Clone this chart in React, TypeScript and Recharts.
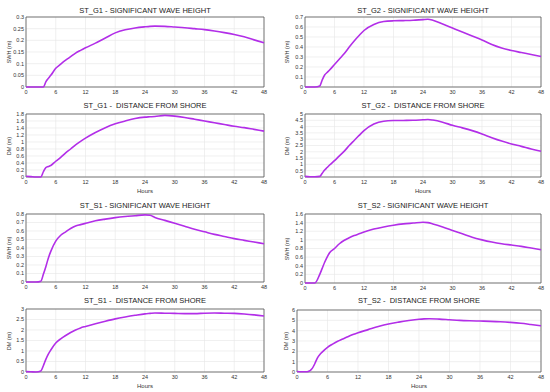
import React from 'react';
import { LineChart, Line, XAxis, YAxis, CartesianGrid, ReferenceArea } from 'recharts';

// Time axis shared by all eight panels (hours)
const HOURS = [0, 1, 2, 3, 3.5, 4, 4.5, 5, 6, 7, 8, 9, 10, 11, 12, 14, 16, 18, 20, 22, 24, 25, 26, 28, 30, 32, 34, 36, 38, 40, 42, 44, 46, 48];
const HOUR_TICKS = [0, 6, 12, 18, 24, 30, 36, 42, 48];

// Significant wave height (m) and distance from shore (m) per station
const G1_SWH = [0, 0, 0, 0, 0, 0.022, 0.037, 0.05, 0.08, 0.098, 0.115, 0.13, 0.145, 0.157, 0.168, 0.188, 0.21, 0.232, 0.245, 0.253, 0.258, 0.26, 0.261, 0.26, 0.257, 0.254, 0.25, 0.246, 0.24, 0.233, 0.225, 0.215, 0.202, 0.19];
const G2_SWH = [0, 0, 0, 0.01, 0.07, 0.12, 0.145, 0.17, 0.225, 0.28, 0.335, 0.4, 0.46, 0.515, 0.565, 0.625, 0.655, 0.662, 0.664, 0.667, 0.674, 0.677, 0.668, 0.63, 0.59, 0.55, 0.51, 0.47, 0.425, 0.39, 0.365, 0.345, 0.325, 0.305];
const G1_DM = [0.02, 0.01, 0, 0, 0.15, 0.27, 0.3, 0.33, 0.45, 0.56, 0.69, 0.8, 0.92, 1.02, 1.11, 1.27, 1.41, 1.52, 1.6, 1.67, 1.71, 1.72, 1.73, 1.76, 1.74, 1.7, 1.65, 1.6, 1.55, 1.5, 1.45, 1.41, 1.36, 1.31];
const G2_DM = [0.05, 0.02, 0.02, 0.05, 0.3, 0.55, 0.75, 0.95, 1.3, 1.68, 2.05, 2.5, 2.9, 3.3, 3.68, 4.2, 4.43, 4.48, 4.49, 4.5, 4.54, 4.56, 4.52, 4.35, 4.1, 3.9, 3.68, 3.42, 3.12, 2.85, 2.62, 2.43, 2.22, 2.05];
const S1_SWH = [0, 0, 0, 0.01, 0.09, 0.18, 0.28, 0.36, 0.48, 0.55, 0.59, 0.63, 0.66, 0.675, 0.69, 0.72, 0.74, 0.757, 0.77, 0.78, 0.79, 0.785, 0.76, 0.725, 0.69, 0.655, 0.62, 0.59, 0.56, 0.535, 0.51, 0.49, 0.47, 0.45];
const S2_SWH = [0, 0, 0, 0.2, 0.34, 0.48, 0.6, 0.7, 0.8, 0.91, 0.99, 1.05, 1.1, 1.14, 1.18, 1.25, 1.3, 1.34, 1.37, 1.39, 1.41, 1.4, 1.37, 1.3, 1.22, 1.14, 1.06, 1.0, 0.95, 0.91, 0.88, 0.85, 0.81, 0.77];
const S1_DM = [0.02, 0.01, 0, 0.05, 0.3, 0.6, 0.85, 1.05, 1.38, 1.58, 1.74, 1.88, 2.0, 2.1, 2.17, 2.3, 2.42, 2.53, 2.62, 2.7, 2.77, 2.79, 2.81, 2.8, 2.79, 2.78, 2.78, 2.8, 2.81, 2.8, 2.79, 2.76, 2.72, 2.67];
const S2_DM = [0.05, 0.02, 0.02, 0.35, 0.8, 1.35, 1.7, 1.95, 2.38, 2.7, 2.98, 3.2, 3.42, 3.62, 3.8, 4.1, 4.4, 4.65, 4.83, 4.98, 5.1, 5.14, 5.16, 5.12, 5.06, 5.0, 4.96, 4.93, 4.9, 4.86, 4.8, 4.72, 4.6, 4.47];

// y tick labels
const TICKS_G1_SWH = [0, 0.05, 0.1, 0.15, 0.2, 0.25, 0.3];
const TICKS_G2_SWH = [0, 0.1, 0.2, 0.3, 0.4, 0.5, 0.6, 0.7];
const TICKS_G1_DM = [0, 0.2, 0.4, 0.6, 0.8, 1, 1.2, 1.4, 1.6, 1.8];
const TICKS_G2_DM = [0, 0.5, 1, 1.5, 2, 2.5, 3, 3.5, 4, 4.5, 5];
const TICKS_S1_SWH = [0, 0.1, 0.2, 0.3, 0.4, 0.5, 0.6, 0.7, 0.8];
const TICKS_S2_SWH = [0, 0.2, 0.4, 0.6, 0.8, 1, 1.2, 1.4, 1.6];
const TICKS_S1_DM = [0, 0.5, 1, 1.5, 2, 2.5, 3];
const TICKS_S2_DM = [0, 1, 2, 3, 4, 5, 6];

const LINE_COLOR = '#b22ee8';
const FONT = '"Liberation Sans", Arial, sans-serif';

interface PanelProps {
  left: number;
  top: number;
  width: number;
  height: number;
  yAxisWidth: number;
  plotTop: number; // relative to panel
  plotBottom: number; // relative to panel
  marginRight: number;
  titleY: number;
  yLabelX: number;
  title: string;
  yLabel: string;
  values: number[];
  ticks: number[];
  showHours?: boolean;
}

const Panel: React.FC<PanelProps> = (p) => {
  const data = HOURS.map((h, i) => ({ h, v: p.values[i] }));
  const xAxisHeight = p.showHours ? 18 : 10;
  const marginBottom = p.height - p.plotBottom - xAxisHeight;
  const yMax = p.ticks[p.ticks.length - 1];
  const plotLeft = p.yAxisWidth;
  const plotWidth = p.width - p.yAxisWidth - p.marginRight;
  const plotMid = (p.plotTop + p.plotBottom) / 2;

  return (
    <div style={{ position: 'absolute', left: p.left, top: p.top, width: p.width, height: p.height }}>
      <div
        style={{
          position: 'absolute',
          left: plotLeft,
          width: plotWidth,
          top: p.titleY - 4,
          fontSize: 7.5,
          lineHeight: '8px',
          textAlign: 'center',
          color: '#222',
          whiteSpace: 'pre'
        }}
      >
        {p.title}
      </div>
      <div
        style={{
          position: 'absolute',
          left: p.yLabelX - 20,
          top: plotMid - 3,
          width: 40,
          fontSize: 5.5,
          lineHeight: '6px',
          textAlign: 'center',
          color: '#333',
          transform: 'rotate(-90deg)'
        }}
      >
        {p.yLabel}
      </div>
      <LineChart
        width={p.width}
        height={p.height}
        data={data}
        margin={{ top: p.plotTop, right: p.marginRight, bottom: marginBottom, left: 0 }}
      >
        <CartesianGrid stroke="#e6e6e6" strokeWidth={0.6} />
        <XAxis
          dataKey="h"
          type="number"
          domain={[0, 48]}
          ticks={HOUR_TICKS}
          height={xAxisHeight}
          tickLine={false}
          axisLine={false}
          tickSize={0}
          tickMargin={3}
          tick={{ fontSize: 5.5, fill: '#333' }}
          label={
            p.showHours
              ? { value: 'Hours', position: 'insideBottom', offset: 2, fontSize: 6, fill: '#333' }
              : undefined
          }
        />
        <YAxis
          type="number"
          domain={[0, yMax]}
          ticks={p.ticks}
          width={p.yAxisWidth}
          tickLine={false}
          axisLine={false}
          tickSize={0}
          tickMargin={2}
          interval={0}
          tick={{ fontSize: 5.5, fill: '#333' }}
        />
        <ReferenceArea x1={0} x2={48} y1={0} y2={yMax} fill="none" stroke="#555" strokeWidth={0.8} />
        <Line
          type="monotone"
          dataKey="v"
          stroke={LINE_COLOR}
          strokeWidth={1.6}
          dot={false}
          isAnimationActive={false}
        />
      </LineChart>
    </div>
  );
};

export default function App() {
  return (
    <div
      style={{
        position: 'absolute',
        left: 0,
        top: 0,
        width: 550,
        height: 392,
        background: '#fff',
        fontFamily: FONT
      }}
    >
      <Panel left={0} top={0} width={275} height={100} yAxisWidth={26} plotTop={17} plotBottom={87} marginRight={11}
        titleY={11} yLabelX={9} title="ST_G1 - SIGNIFICANT WAVE HEIGHT" yLabel="SWH (m)" values={G1_SWH} ticks={TICKS_G1_SWH} />
      <Panel left={275} top={0} width={275} height={100} yAxisWidth={30} plotTop={17} plotBottom={87} marginRight={9}
        titleY={11} yLabelX={12} title="ST_G2 - SIGNIFICANT WAVE HEIGHT" yLabel="SWH (m)" values={G2_SWH} ticks={TICKS_G2_SWH} />
      <Panel left={0} top={100} width={275} height={100} yAxisWidth={26} plotTop={14} plotBottom={77} marginRight={11}
        titleY={6} yLabelX={9} title="ST_G1 -  DISTANCE FROM SHORE" yLabel="DM (m)" values={G1_DM} ticks={TICKS_G1_DM} showHours />
      <Panel left={275} top={100} width={275} height={100} yAxisWidth={30} plotTop={14} plotBottom={77} marginRight={9}
        titleY={6} yLabelX={12} title="ST_G2 -  DISTANCE FROM SHORE" yLabel="DM (m)" values={G2_DM} ticks={TICKS_G2_DM} showHours />
      <Panel left={0} top={200} width={275} height={100} yAxisWidth={26} plotTop={14} plotBottom={82} marginRight={11}
        titleY={6} yLabelX={9} title="ST_S1 - SIGNIFICANT WAVE HEIGHT" yLabel="SWH (m)" values={S1_SWH} ticks={TICKS_S1_SWH} />
      <Panel left={275} top={200} width={275} height={100} yAxisWidth={30} plotTop={14} plotBottom={83} marginRight={9}
        titleY={6} yLabelX={12} title="ST_S2 - SIGNIFICANT WAVE HEIGHT" yLabel="SWH (m)" values={S2_SWH} ticks={TICKS_S2_SWH} />
      <Panel left={0} top={295} width={275} height={97} yAxisWidth={26} plotTop={14} plotBottom={77} marginRight={11}
        titleY={6} yLabelX={9} title="ST_S1 -  DISTANCE FROM SHORE" yLabel="DM (m)" values={S1_DM} ticks={TICKS_S1_DM} showHours />
      <Panel left={275} top={295} width={275} height={97} yAxisWidth={22} plotTop={15} plotBottom={77} marginRight={9}
        titleY={6} yLabelX={11} title="ST_S2 -  DISTANCE FROM SHORE" yLabel="DM (m)" values={S2_DM} ticks={TICKS_S2_DM} showHours />
    </div>
  );
}
